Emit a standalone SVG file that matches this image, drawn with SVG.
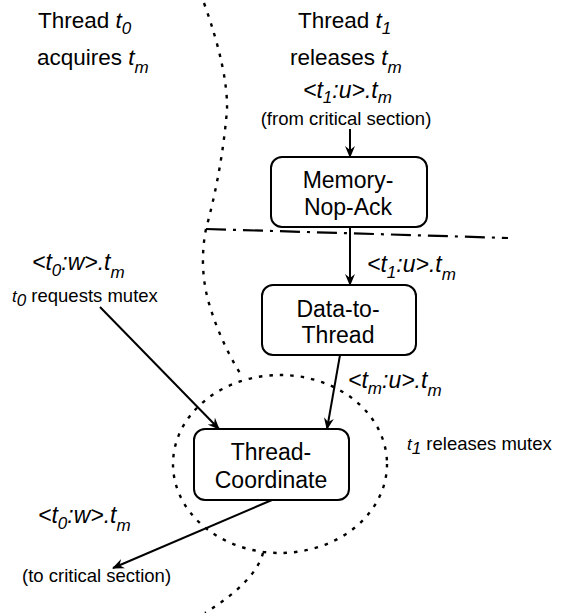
<svg xmlns="http://www.w3.org/2000/svg" width="566" height="613" viewBox="0 0 566 613">
<style>
text{font-family:"Liberation Sans",Arial,Helvetica,sans-serif;fill:#000}
.h{font-size:22.5px}
.n{font-size:23px;text-anchor:middle}
.m{font-size:23px;font-style:italic}
.s{font-size:18.5px}
.i{font-style:italic}
.sb{font-size:17px;font-style:italic}
.box{fill:#fff;stroke:#000;stroke-width:2}
.e{fill:none;stroke:#000;stroke-width:2}
.dot{fill:none;stroke:#000;stroke-width:2.4;stroke-dasharray:3.5 7}
.dd{fill:none;stroke:#000;stroke-width:2.2;stroke-dasharray:20 7 3 7}
</style>
<defs>
<marker id="ah" viewBox="0 0 12 10" refX="11" refY="5" markerWidth="12" markerHeight="10" markerUnits="userSpaceOnUse" orient="auto">
<path d="M0,0 L12,5 L0,10 L4,5 z" fill="#000"/>
</marker>
</defs>
<g id="boundaries">
<path class="dot" d="M204,3 Q228,70 227,110 Q222,170 206,229 Q199,265 208,300 Q220,342 243,378"/>
<ellipse class="dot" cx="280" cy="464" rx="107" ry="89"/>
<path class="dot" d="M263,553 Q255,582 205,613"/>
<path class="dd" d="M206,229 L508,238"/>
</g>
<g id="labels">
<text class="h" x="38" y="28">Thread <tspan class="i">t</tspan><tspan class="sb" dy="6">0</tspan></text>
<text class="h" x="37" y="65">acquires <tspan class="i">t</tspan><tspan class="sb" dy="8">m</tspan></text>
<text class="h" x="298" y="28">Thread <tspan class="i">t</tspan><tspan class="sb" dy="6">1</tspan></text>
<text class="h" x="290" y="65">releases <tspan class="i">t</tspan><tspan class="sb" dy="8">m</tspan></text>
<text class="m" x="303" y="98">&lt;t<tspan class="sb" dy="5">1</tspan><tspan dy="-5">:u&gt;.t</tspan><tspan class="sb" dy="5">m</tspan></text>
<text class="s" x="346" y="125" text-anchor="middle">(from critical section)</text>
<text class="m" x="32" y="270">&lt;t<tspan class="sb" dy="6">0</tspan><tspan dy="-6">:w&gt;.t</tspan><tspan class="sb" dy="8">m</tspan></text>
<text class="s" x="12" y="302"><tspan class="sb">t</tspan><tspan class="sb" dy="4" font-size="14px">0</tspan><tspan dy="-4"> requests mutex</tspan></text>
<text class="m" x="367" y="272">&lt;t<tspan class="sb" dy="6">1</tspan><tspan dy="-6">:u&gt;.t</tspan><tspan class="sb" dy="8">m</tspan></text>
<text class="m" x="348" y="388">&lt;t<tspan class="sb" dy="6">m</tspan><tspan dy="-6">:u&gt;.t</tspan><tspan class="sb" dy="8">m</tspan></text>
<text class="s" x="407" y="450"><tspan class="sb">t</tspan><tspan class="sb" dy="4" font-size="14px">1</tspan><tspan dy="-4"> releases mutex</tspan></text>
<text class="m" x="38" y="523">&lt;t<tspan class="sb" dy="6">0</tspan><tspan dy="-6">:w&gt;.t</tspan><tspan class="sb" dy="8">m</tspan></text>
<text class="s" x="22" y="582">(to critical section)</text>
</g>
<g id="connectors">
<line class="e" x1="350" y1="129" x2="350" y2="157" marker-end="url(#ah)"/>
<line class="e" x1="350" y1="227" x2="350" y2="285" marker-end="url(#ah)"/>
<line class="e" x1="340" y1="355" x2="327" y2="429" marker-end="url(#ah)"/>
<line class="e" x1="100" y1="307" x2="219" y2="429" marker-end="url(#ah)"/>
<line class="e" x1="272" y1="500" x2="113" y2="568" marker-end="url(#ah)"/>
</g>
<g id="memory-nop-ack">
<rect class="box" x="271" y="157" width="156" height="70" rx="11"/>
<text class="n" x="348" y="188">Memory-</text>
<text class="n" x="348" y="215">Nop-Ack</text>
</g>
<g id="data-to-thread">
<rect class="box" x="262" y="285" width="154" height="70" rx="11"/>
<text class="n" x="338" y="317">Data-to-</text>
<text class="n" x="338" y="343">Thread</text>
</g>
<g id="thread-coordinate">
<rect class="box" x="194" y="429" width="155" height="71" rx="11"/>
<text class="n" x="271" y="460">Thread-</text>
<text class="n" x="271" y="488">Coordinate</text>
</g>
</svg>
